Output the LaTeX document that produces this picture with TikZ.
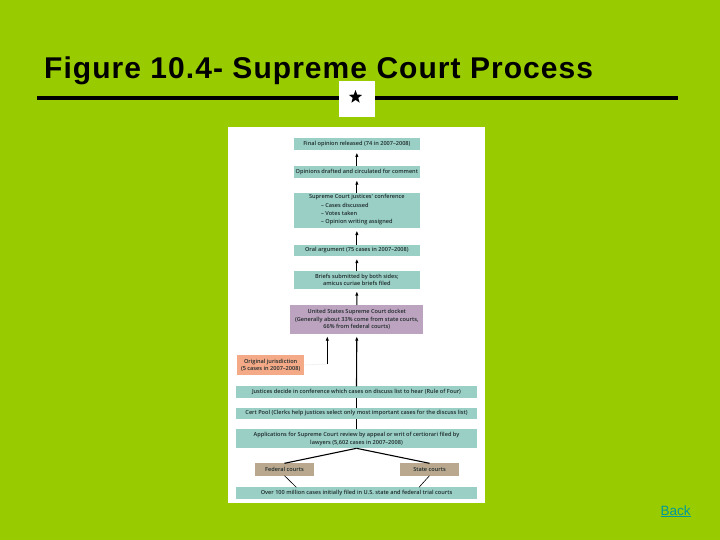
\documentclass[tikz,border=0pt]{standalone}
\usepackage{fontspec}
\setmainfont{Liberation Sans}
\newfontfamily\flowfont{Open Sans}[UprightFont=* Semibold]
\newfontfamily\titlefont{Liberation Sans Bold}[LetterSpace=3.5]
\usetikzlibrary{arrows.meta,shapes.geometric}
\definecolor{slidegreen}{HTML}{99CC00}
\definecolor{tealbox}{HTML}{9ACFC6}
\definecolor{purplebox}{HTML}{BCA3BF}
\definecolor{salmonbox}{HTML}{F4A987}
\definecolor{tanbox}{HTML}{B9A88E}
\definecolor{linkteal}{HTML}{009999}
\definecolor{flowtext}{HTML}{1E2A2A}
\tikzset{
  flowbox/.style={inner sep=0pt,outer sep=0pt,align=center,font=\flowfont\fontsize{5.6}{8}\selectfont,text=flowtext},
  tealnode/.style={flowbox,fill=tealbox},
  purplenode/.style={flowbox,fill=purplebox},
  salmonnode/.style={flowbox,fill=salmonbox},
  tannode/.style={flowbox,fill=tanbox},
  flowline/.style={draw=black,line width=1.1pt},
  flowarrow/.style={flowline,-{Latex[length=4.5pt,width=3.4pt]},shorten >=2.5pt},
  faintline/.style={draw=white!90!gray,line width=0.8pt}
}
\begin{document}
\begin{tikzpicture}[x=1pt,y=-1pt]
\useasboundingbox (0,0) rectangle (720,540);
\fill[slidegreen] (0,0) rectangle (720,540);
\node[anchor=base west,inner sep=0pt,font=\titlefont\fontsize{30}{32}\selectfont,text=black] (title) at (44,78.5) {Figure 10.4- Supreme Court Process};
\draw[black,line width=4pt] (37,97.7) coordinate (ruleL) -- (678,97.7) coordinate (ruleR);
\node[fill=white,minimum width=36pt,minimum height=36pt,inner sep=0pt] (starbox) at (357,99) {};
\node[star,star points=5,star point ratio=2.4,fill=black,minimum size=14pt,inner sep=0pt] (starmark) at (355.5,97) {};
\fill[white] (228,127) rectangle (485,503);
% flow boxes
\node[tealnode,minimum width=126.3pt,minimum height=12pt] (final) at (356.85,144) {Final opinion released (74 in 2007–2008)};
\node[tealnode,minimum width=126.3pt,minimum height=12pt] (drafted) at (356.85,171.7) {Opinions drafted and circulated for comment};
\node[tealnode,minimum width=126.3pt,minimum height=35pt] (conf) at (356.85,210.5) {Supreme Court justices' conference\\[0.6pt]\begin{tabular}{@{}l@{}}– Cases discussed\\[0.2pt]– Votes taken\\[0.2pt]– Opinion writing assigned\end{tabular}};
\node[tealnode,minimum width=126.3pt,minimum height=11.5pt] (oral) at (356.85,250.4) {Oral argument (75 cases in 2007–2008)};
\node[tealnode,minimum width=126.3pt,minimum height=17.4pt] (briefs) at (356.85,280) {Briefs submitted by both sides;\\[-0.8pt]amicus curiae briefs filed};
\node[purplenode,minimum width=133pt,minimum height=28.7pt] (docket) at (356.8,319.35) {United States Supreme Court docket\\[-0.8pt](Generally about 33\% come from state courts,\\[-0.8pt]66\% from federal courts)};
\node[salmonnode,minimum width=66.7pt,minimum height=19.4pt] (orig) at (270.65,365) {Original jurisdiction\\[-0.8pt](5 cases in 2007–2008)};
\node[tealnode,minimum width=241.6pt,minimum height=11.4pt] (justices) at (356.5,392) {Justices decide in conference which cases on discuss list to hear (Rule of Four)};
\node[tealnode,minimum width=241.6pt,minimum height=11.4pt] (cert) at (356.5,413.35) {Cert Pool (Clerks help justices select only most important cases for the discuss list)};
\node[tealnode,minimum width=241.6pt,minimum height=19pt] (apps) at (356.5,438.8) {Applications for Supreme Court review by appeal or writ of certiorari filed by\\[-0.4pt]lawyers (5,602 cases in 2007–2008)};
\node[tannode,minimum width=58.4pt,minimum height=12.4pt] (federal) at (284.5,469.5) {Federal courts};
\node[tannode,minimum width=58.4pt,minimum height=12.4pt] (state) at (429.5,469.5) {State courts};
\node[tealnode,minimum width=241.6pt,minimum height=11.7pt] (over) at (356.5,493.15) {Over 100 million cases initially filed in U.S. state and federal trial courts};
% connectors
\draw[flowarrow] (drafted.north) -- (final.south);
\draw[flowarrow] (conf.north) -- (drafted.south);
\draw[flowarrow] (oral.north) -- (conf.south);
\draw[flowarrow] (briefs.north) -- (oral.south);
\draw[flowarrow] (docket.north) -- (briefs.south);
\draw[flowarrow] (justices.north) -- (docket.south);
\draw[flowline] (cert.north) -- (justices.south);
\draw[flowline] (apps.north) -- (cert.south);
\coordinate (corner) at (327.3,364);
\coordinate (dockettap) at (327.3,333.7);
\coordinate (overL) at (296.3,487.3);
\coordinate (overR) at (419,487.3);
\draw[faintline] (orig.east) -- (corner);
\draw[flowarrow] (corner) -- (dockettap);
\draw[flowline] (federal.north) -- (apps.south);
\draw[flowline] (state.north) -- (apps.south);
\draw[black,line width=0.6pt] (federal.south) -- (overL);
\draw[black,line width=0.6pt] (state.south) -- (overR);
% link
\node[anchor=base west,inner sep=0pt,font=\fontsize{13.5}{15}\selectfont,text=linkteal] (back) at (660.5,515) {Back};
\draw[linkteal,line width=0.9pt] (660.5,516.6) -- (691,516.6);
\end{tikzpicture}
\end{document}
